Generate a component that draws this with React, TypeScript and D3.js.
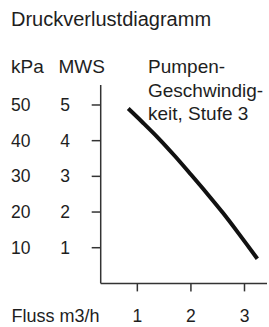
import React from "react";
import * as d3 from "d3";

const WIDTH = 269;
const HEIGHT = 327;
const FONT = "'Liberation Sans', Arial, Helvetica, sans-serif";

// Pump curve: flow in m3/h, head in MWS
const flow = [0.83, 1.1, 1.4, 1.7, 2.0, 2.3, 2.6, 2.9, 3.24];
const head = [4.9, 4.51, 4.06, 3.57, 3.05, 2.52, 1.97, 1.38, 0.69];

const mwsTicks = [1, 2, 3, 4, 5];
const kpaTicks = ["10", "20", "30", "40", "50"];
const flowTicks = [1, 2, 3];
const legendLines = ["Pumpen-", "Geschwindig-", "keit, Stufe 3"];

export default function App() {
  const xScale = d3.scaleLinear().domain([0.316, 3.42]).range([100.7, 267]);
  const yScale = d3.scaleLinear().domain([0, 5.56]).range([283.4, 85]);

  const line = d3
    .line<number>()
    .x((d, i) => xScale(flow[i]))
    .y((d) => yScale(d))
    .curve(d3.curveCatmullRom);
  const path = line(head) ?? "";

  const [x0, x1] = xScale.range();
  const [y0, y1] = yScale.range();

  return (
    <svg
      width={WIDTH}
      height={HEIGHT}
      style={{ position: "absolute", left: 0, top: 0, background: "#fff" }}
      fontFamily={FONT}
      fill="#1e1e1e"
    >
      <text x={11} y={26} fontSize={20}>
        Druckverlustdiagramm
      </text>

      <text x={11} y={73} fontSize={19}>
        kPa
      </text>
      <text x={58.5} y={73} fontSize={19}>
        MWS
      </text>

      {legendLines.map((t, i) => (
        <text key={t} x={148} y={73.3 + i * 23.4} fontSize={19}>
          {t}
        </text>
      ))}

      {/* y axis */}
      <line x1={x0} x2={x0} y1={y1} y2={y0} stroke="#333" strokeWidth={1.5} />
      {mwsTicks.map((v, i) => (
        <g key={v} transform={`translate(0, ${yScale(v)})`}>
          <line x1={x0 - 9} x2={x0} stroke="#333" strokeWidth={1.5} />
          <text x={30.5} dy={6} fontSize={17.5} textAnchor="end">
            {kpaTicks[i]}
          </text>
          <text x={65} dy={6} fontSize={17.5} textAnchor="middle">
            {v}
          </text>
        </g>
      ))}

      {/* x axis */}
      <line x1={x0} x2={x1} y1={y0} y2={y0} stroke="#333" strokeWidth={1.5} />
      {flowTicks.map((v) => (
        <g key={v} transform={`translate(${xScale(v)}, 0)`}>
          <line y1={y0} y2={y0 + 8} stroke="#333" strokeWidth={1.5} />
          <text y={322} fontSize={17.5} textAnchor="middle">
            {v}
          </text>
        </g>
      ))}
      <text x={11.5} y={322} fontSize={18}>
        Fluss m3/h
      </text>

      <path d={path} fill="none" stroke="#111" strokeWidth={4} strokeLinecap="butt" />
    </svg>
  );
}
